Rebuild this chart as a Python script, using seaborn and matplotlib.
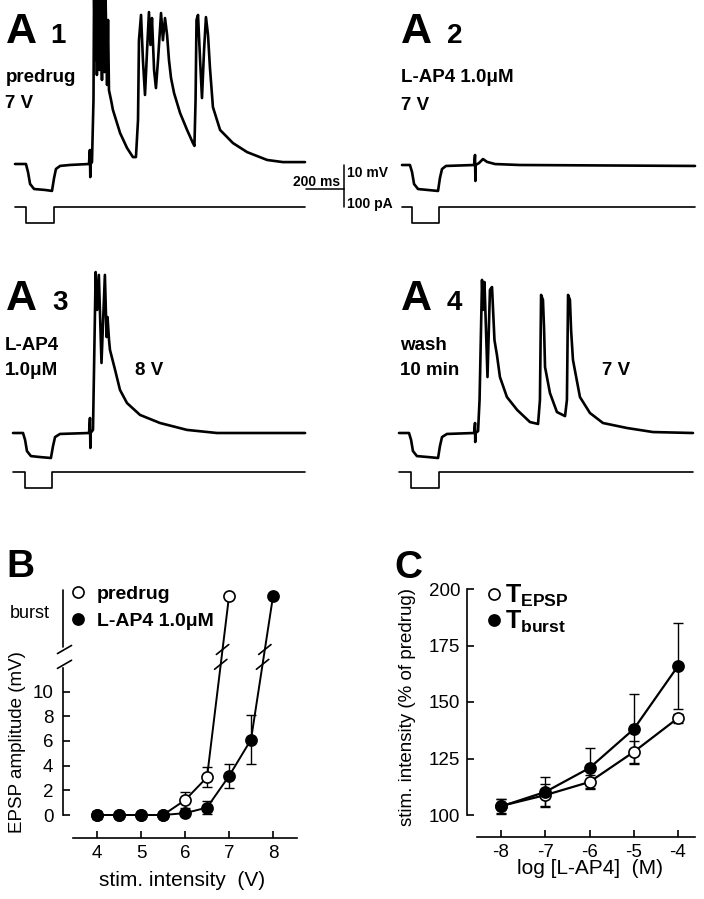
import numpy as np
import matplotlib.pyplot as plt
from matplotlib.lines import Line2D
import seaborn as sns

# A: example recordings. time in ms from trace start, Vm in mV from rest
a1_t = [0, 58, 69, 80, 101, 159, 196, 207, 217, 239, 292, 392, 397, 399, 401, 408, 416, 419, 424, 429,
        434, 440, 448, 453, 461, 466, 474, 480, 488, 493, 498, 509, 519, 557, 594, 625, 641, 652, 657, 668,
        678, 689, 700, 710, 718, 726, 737, 747, 758, 774, 784, 795, 806, 816, 827, 843, 875, 912, 943, 951,
        957, 962, 970, 981, 991, 1002, 1012, 1023, 1033, 1049, 1087, 1155, 1230, 1336, 1420, 1537]
a1_v = [0, 0, -3.4, -8.4, -10.5, -10.9, -11.3, -5.9, -2.1, -0.8, -0.4, 0, 5.9, -5.5, 0, 0.8, 27, 72, 43.7, 72,
        37.4, 72, 39.5, 70, 35.3, 72, 38.6, 70, 33.2, 60.5, 31, 26.9, 22.7, 13, 6.7, 2.9, 2.9, 18.5, 52, 62.6,
        43.7, 29, 47.9, 63.8, 50, 61.3, 39.5, 31.9, 43.7, 63.4, 52, 61.3, 54.2, 43.7, 36.1, 29.8, 21.4, 14.3, 8.8, 7.6,
        26.9, 60.5, 62.6, 43.7, 27.7, 47.9, 61.7, 54.2, 40.7, 23.9, 14.3, 8.8, 5, 1.7, 0.8, 0.8]

a2_t = [0, 42, 53, 64, 85, 138, 191, 201, 212, 233, 382, 387, 389, 390, 408, 429, 451, 493, 625, 1553]
a2_v = [0, 0, -2.9, -8, -10.1, -10.5, -10.9, -5.5, -1.7, -0.4, 0, 4.2, -6.7, 0, 0.8, 2.5, 1.3, 0.4, 0, -0.4]

a3_t = [0, 53, 64, 74, 95, 143, 201, 212, 223, 249, 403, 408, 410, 411, 424, 432, 438, 446, 455, 469,
        487, 496, 501, 509, 514, 541, 567, 604, 673, 779, 922, 1081, 1548]
a3_v = [0, 0, -2.9, -7.6, -9.7, -10.1, -10.5, -5.5, -1.7, -0.4, 0, 6.3, -6.3, 0, 1.3, 39, 67.6, 51.7, 66.4, 29.4,
        66.4, 40.3, 48.7, 39, 34.9, 26.5, 18.1, 12.6, 7.6, 4.2, 1.3, 0, 0]

a4_t = [0, 53, 64, 74, 95, 154, 207, 217, 228, 254, 398, 403, 404, 406, 419, 427, 440, 445, 453, 469,
        482, 493, 506, 519, 535, 572, 626, 694, 737, 747, 753, 763, 769, 774, 800, 837, 880, 890, 896, 906,
        912, 922, 959, 1012, 1081, 1208, 1346, 1558]
a4_v = [0, 0, -2.9, -7.6, -9.7, -10.1, -10.5, -5.5, -1.7, -0.4, 0, 4.2, -3.8, 0, 0.8, 13.9, 64.3, 51.7, 63.4, 23.5,
        60.1, 61.3, 39, 32.8, 23.5, 15.1, 9.7, 4.6, 3.8, 13.9, 58, 55.9, 43.3, 27.7, 16.8, 8.8, 7.1, 13.9, 58, 55.9,
        43.3, 30.7, 15.1, 8.4, 4.2, 2.1, 0.4, 0]

# injected current (pA)
i_step = [0, 0, -90, -90, 0, 0]
a1_it = [0, 58, 58, 207, 207, 1537]
a2_it = [0, 53, 53, 196, 196, 1553]
a3_it = [0, 64, 64, 207, 207, 1548]
a4_it = [0, 64, 64, 212, 212, 1558]

# B: EPSP amplitude vs stimulus intensity
BURST = 17.7  # plotting level of the "burst" category
b_x_pre = [4, 4.5, 5, 5.5, 6, 6.5, 7]
b_y_pre = [0, 0, 0, 0, 1.2, 3.05, BURST]
b_e_pre = [0.15, 0.1, 0.1, 0.1, 0.65, 0.8, 0]
b_x_lap = [4, 4.5, 5, 5.5, 6, 6.5, 7, 7.5, 8]
b_y_lap = [0, 0, 0, 0, 0.15, 0.6, 3.15, 6.1, BURST]
b_e_lap = [0.35, 0.15, 0.15, 0.15, 0.15, 0.55, 1.0, 2.0, 0]

# C: threshold stimulus vs L-AP4 concentration
c_x = [-8, -7, -6, -5, -4]
c_epsp = [104, 108.8, 114.6, 127.9, 142.9]
c_epsp_err = [3, 5, 3.2, 5, 2]
c_burst = [103.8, 110.2, 120.8, 138, 165.9]
c_burst_err = [3.5, 6.6, 8.8, 15.5, 19]

sns.set_theme(style='ticks', rc={
    'axes.linewidth': 1.2, 'axes.edgecolor': 'black', 'axes.labelcolor': 'black',
    'xtick.direction': 'in', 'ytick.direction': 'in',
    'xtick.major.size': 5, 'ytick.major.size': 5,
    'xtick.major.width': 1.2, 'ytick.major.width': 1.2,
    'xtick.color': 'black', 'ytick.color': 'black', 'text.color': 'black'})
plt.rcParams['font.family'] = ['Liberation Sans', 'DejaVu Sans']
plt.rcParams['mathtext.fontset'] = 'custom'
plt.rcParams['mathtext.rm'] = 'Liberation Sans'
plt.rcParams['mathtext.bf'] = 'Liberation Sans:bold'
plt.rcParams['mathtext.it'] = 'Liberation Sans:italic'

W, H = 704, 899
MS_PX, MV_PX, PA_PX = 5.3, 0.42, 5.6   # trace scale per pixel

fig = plt.figure(figsize=(W / 100, H / 100), dpi=100)


def px_axes(x0, y0, x1, y1):
    ax = fig.add_axes([x0 / W, 1 - y1 / H, (x1 - x0) / W, (y1 - y0) / H])
    ax.set_facecolor('none')
    return ax


def ftext(x, y, s, size, weight='bold', **kw):
    fig.text(x / W, 1 - y / H, s, fontsize=size, fontweight=weight, va='baseline', **kw)


def trace(t, v, it, x0, x1, t0, base, v_top, v_bot, i_base):
    axv = px_axes(x0, v_top, x1, v_bot)
    axv.set_xlim((x0 - t0) * MS_PX, (x1 - t0) * MS_PX)
    axv.set_ylim((base - v_bot) * MV_PX, (base - v_top) * MV_PX)
    sns.lineplot(x=t, y=v, ax=axv, color='black', lw=1.9, estimator=None, sort=False)
    axv.axis('off')
    axi = px_axes(x0, i_base - 12, x1, i_base + 24)
    axi.set_xlim(axv.get_xlim())
    axi.set_ylim(-24 * PA_PX, 12 * PA_PX)
    sns.lineplot(x=it, y=i_step, ax=axi, color='black', lw=1.2, estimator=None, sort=False)
    axi.axis('off')
    return axv, axi


ax1v, ax1i = trace(a1_t, a1_v, a1_it, 0, 352, 15, 164, 0, 200, 207)
trace(a2_t, a2_v, a2_it, 352, 704, 402, 165, 0, 200, 207)
trace(a3_t, a3_v, a3_it, 0, 352, 13, 433, 250, 470, 472)
trace(a4_t, a4_v, a4_it, 352, 704, 399, 433, 250, 470, 472)

# scale bars (200 ms, 10 mV, 100 pA)
sb_t = (344 - 15) * MS_PX
ax1v.plot([sb_t - 200, sb_t], [-10.5, -10.5], color='black', lw=1.1, clip_on=False)
ax1v.plot([sb_t, sb_t], [-10.5, -0.5], color='black', lw=1.1, clip_on=False)
ax1i.plot([sb_t, sb_t], [0, 100], color='black', lw=1.1, clip_on=False)
ftext(340, 186, '200 ms', 10, ha='right')
ftext(347, 177, '10 mV', 10)
ftext(347, 208, '100 pA', 10)

ftext(6, 43, 'A', 31); ftext(50, 43, '1', 20)
ftext(6, 82, 'predrug', 13.5); ftext(5, 108, '7 V', 13.5)
ftext(401, 43, 'A', 31); ftext(447, 43, '2', 20)
ftext(401, 82, 'L-AP4 1.0μM', 13.5); ftext(401, 110, '7 V', 13.5)
ftext(6, 310, 'A', 31); ftext(52, 310, '3', 20)
ftext(5, 350, 'L-AP4', 13.5); ftext(5, 375, '1.0μM', 13.5); ftext(135, 375, '8 V', 13.5)
ftext(401, 310, 'A', 31); ftext(447, 310, '4', 20)
ftext(400, 350, 'wash', 13.5); ftext(400, 375, '10 min', 13.5); ftext(602, 375, '7 V', 13.5)
ftext(6, 577, 'B', 28)
ftext(394, 578, 'C', 28)

open_kw = dict(marker='o', markersize=8, markerfacecolor='white', markeredgecolor='black', markeredgewidth=1.2)
fill_kw = dict(marker='o', markersize=8, markerfacecolor='black', markeredgecolor='black', markeredgewidth=1.2)
err_kw = dict(fmt='none', ecolor='black', elinewidth=1, capsize=3.5, capthick=1, zorder=1)

# ---- B
axB = px_axes(63, 590, 297, 838)
axB.set_xlim(4 - 34 / 44, 8 + 24 / 44)
axB.set_ylim(-23 / 12.35, 225 / 12.35)
axB.errorbar(b_x_pre, b_y_pre, yerr=b_e_pre, **err_kw)
axB.errorbar(b_x_lap, b_y_lap, yerr=b_e_lap, **err_kw)
sns.lineplot(x=b_x_pre, y=b_y_pre, ax=axB, color='black', lw=1.4, estimator=None, clip_on=False, **open_kw)
sns.lineplot(x=b_x_lap, y=b_y_lap, ax=axB, color='black', lw=1.4, estimator=None, clip_on=False, **fill_kw)
axB.set_xticks([4, 5, 6, 7, 8])
axB.set_yticks([0, 2, 4, 6, 8, 10])
axB.tick_params(axis='x', labelsize=13.5, pad=5)
axB.tick_params(axis='y', labelsize=13.5, pad=7)
for s in ['top', 'right']:
    axB.spines[s].set_visible(False)
axB.spines['left'].set_bounds(0, 11.9)
axB.spines['bottom'].set_bounds(3.45, 8.55)
axB.plot([0, 0], [13.6, 18.22], transform=axB.get_yaxis_transform(), color='black', lw=1.2, clip_on=False)


def slash(ax, x, y, dx, dy):
    ax.plot([x - dx, x + dx], [y - dy, y + dy], color='black', lw=1.2, clip_on=False)


x_ax = axB.get_xlim()[0] + 1.5 / 44
for yb in [12.2, 13.4]:
    slash(axB, x_ax, yb, 0.16, 0.33)
    for xs, ys in [(b_x_pre, b_y_pre), (b_x_lap, b_y_lap)]:
        slash(axB, np.interp(yb, ys[-2:], xs[-2:]), yb, 0.14, 0.4)

ftext(10, 618, 'burst', 13, weight='normal')
axB.set_xlabel('stim. intensity  (V)', fontsize=15, va='center')
axB.xaxis.set_label_coords(182 / W, 1 - 880 / H, transform=fig.transFigure)
axB.set_ylabel('EPSP amplitude (mV)', fontsize=13.5, va='center')
axB.yaxis.set_label_coords(18 / W, 1 - 742 / H, transform=fig.transFigure)

hB = [Line2D([], [], ls='none', **open_kw), Line2D([], [], ls='none', **fill_kw)]
axB.legend(hB, ['predrug', 'L-AP4 1.0μM'], loc='upper left',
           bbox_to_anchor=(70 / W, 1 - 585 / H), bbox_transform=fig.transFigure,
           frameon=False, borderpad=0, borderaxespad=0, handlelength=0.8,
           handletextpad=0.59, labelspacing=0.48, prop={'weight': 'bold', 'size': 14})

# ---- C
axC = px_axes(467, 589, 698, 837)
axC.set_xlim(-8 - 34 / 44.2, -4 + 20 / 44.2)
axC.set_ylim(100 - 22 / 2.26, 200)
axC.errorbar(c_x, c_epsp, yerr=c_epsp_err, **err_kw)
axC.errorbar(c_x, c_burst, yerr=c_burst_err, **err_kw)
sns.lineplot(x=c_x, y=c_epsp, ax=axC, color='black', lw=1.6, estimator=None, clip_on=False, **open_kw)
sns.lineplot(x=c_x, y=c_burst, ax=axC, color='black', lw=1.6, estimator=None, clip_on=False, **fill_kw)
axC.set_xticks(c_x)
axC.set_xticklabels([str(v) for v in c_x])
axC.set_yticks([100, 125, 150, 175, 200])
axC.tick_params(axis='x', labelsize=13.5, pad=5)
axC.tick_params(axis='y', labelsize=13.5, pad=5)
for s in ['top', 'right']:
    axC.spines[s].set_visible(False)
axC.spines['left'].set_bounds(100, 200)
axC.spines['bottom'].set_bounds(-8.54, -3.62)
axC.set_xlabel('log [L-AP4]  (M)', fontsize=15, va='center')
axC.xaxis.set_label_coords(590 / W, 1 - 869 / H, transform=fig.transFigure)
axC.set_ylabel('stim. intensity (% of predrug)', fontsize=13.5, va='center')
axC.yaxis.set_label_coords(408 / W, 1 - 707 / H, transform=fig.transFigure)

hC = [Line2D([], [], ls='none', **open_kw), Line2D([], [], ls='none', **fill_kw)]
axC.legend(hC, [r'$\mathbf{T_{EPSP}}$', r'$\mathbf{T_{burst}}$'], loc='upper left',
           bbox_to_anchor=(486 / W, 1 - 583 / H), bbox_transform=fig.transFigure,
           frameon=False, borderpad=0, borderaxespad=0, handlelength=0.6,
           handletextpad=0.15, labelspacing=0.0, prop={'weight': 'bold', 'size': 18})

fig.savefig('out.png', dpi=100)
